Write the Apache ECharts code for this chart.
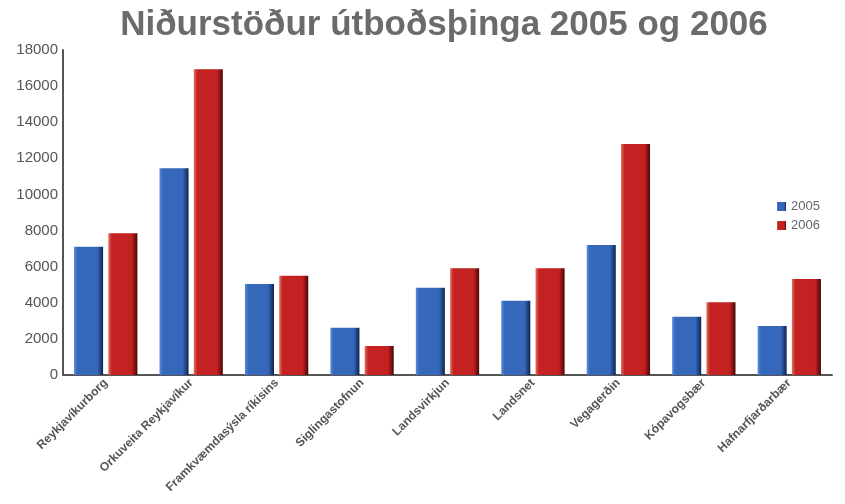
<!DOCTYPE html>
<html>
<head>
<meta charset="utf-8">
<script src="https://cdn.jsdelivr.net/npm/echarts@6/dist/echarts.min.js"></script>
<style>
  html, body { margin: 0; padding: 0; background: #fff; }
  #chart { width: 845px; height: 504px; }
</style>
</head>
<body>
<div id="chart"></div>
<script>
var categories = ['Reykjavíkurborg', 'Orkuveita Reykjavíkur', 'Framkvæmdasýsla ríkisins', 'Siglingastofnun',
  'Landsvirkjun', 'Landsnet', 'Vegagerðin', 'Kópavogsbær', 'Hafnarfjarðarbær'];
var values2005 = [7100, 11450, 5040, 2620, 4830, 4110, 7200, 3230, 2710];
var values2006 = [7850, 16930, 5500, 1610, 5910, 5910, 12790, 4030, 5320];
var seriesNames = ['2005', '2006'];

function barColor(light, mid, dark) {
  return new echarts.graphic.LinearGradient(0, 0, 1, 0, [
    { offset: 0, color: light },
    { offset: 0.12, color: mid },
    { offset: 0.8, color: mid },
    { offset: 1, color: dark }
  ]);
}

var myChart = echarts.init(document.getElementById('chart'));
var option = {
  backgroundColor: '#fff',
  title: {
    text: 'Niðurstöður útboðsþinga 2005 og 2006',
    left: 439,
    textAlign: 'center',
    top: 3,
    textStyle: {
      fontFamily: 'Liberation Sans, Arial, sans-serif',
      fontSize: 35,
      fontWeight: 'bold',
      color: '#6b6b6b'
    }
  },
  legend: {
    data: seriesNames,
    orient: 'vertical',
    left: 772,
    top: 195,
    icon: 'rect',
    itemWidth: 9,
    itemHeight: 9,
    itemGap: 6,
    textStyle: { color: '#666', fontSize: 13, fontFamily: 'Liberation Sans, Arial, sans-serif' }
  },
  grid: { left: 63, right: 13, top: 50, bottom: 129, containLabel: false },
  xAxis: {
    type: 'category',
    data: categories,
    axisLine: { lineStyle: { color: '#555', width: 2 } },
    axisTick: { show: false },
    axisLabel: {
      rotate: 45,
      interval: 0,
      margin: 6,
      fontSize: 12,
      fontWeight: 'bold',
      color: '#555',
      fontFamily: 'Liberation Sans, Arial, sans-serif'
    }
  },
  yAxis: {
    type: 'value',
    min: 0,
    max: 18000,
    interval: 2000,
    axisLine: { show: true, lineStyle: { color: '#555', width: 2 } },
    axisTick: { show: false },
    splitLine: { show: false },
    axisLabel: {
      fontSize: 15,
      margin: 5,
      color: '#555',
      fontFamily: 'Liberation Sans, Arial, sans-serif',
      formatter: function (v) { return String(v); }
    }
  },
  series: [
    {
      name: seriesNames[0],
      type: 'bar',
      data: values2005,
      barWidth: '34%',
      barGap: '18%',
      itemStyle: {
        color: barColor('#5b8ad6', '#3567bb', '#0c2350'),
        shadowColor: 'rgba(0,0,0,0.25)',
        shadowBlur: 4,
        shadowOffsetX: 2
      }
    },
    {
      name: seriesNames[1],
      type: 'bar',
      data: values2006,
      barWidth: '34%',
      itemStyle: {
        color: barColor('#e07060', '#c42222', '#4a0606'),
        shadowColor: 'rgba(0,0,0,0.25)',
        shadowBlur: 4,
        shadowOffsetX: 2
      }
    }
  ]
};
myChart.setOption(option);
</script>
</body>
</html>
